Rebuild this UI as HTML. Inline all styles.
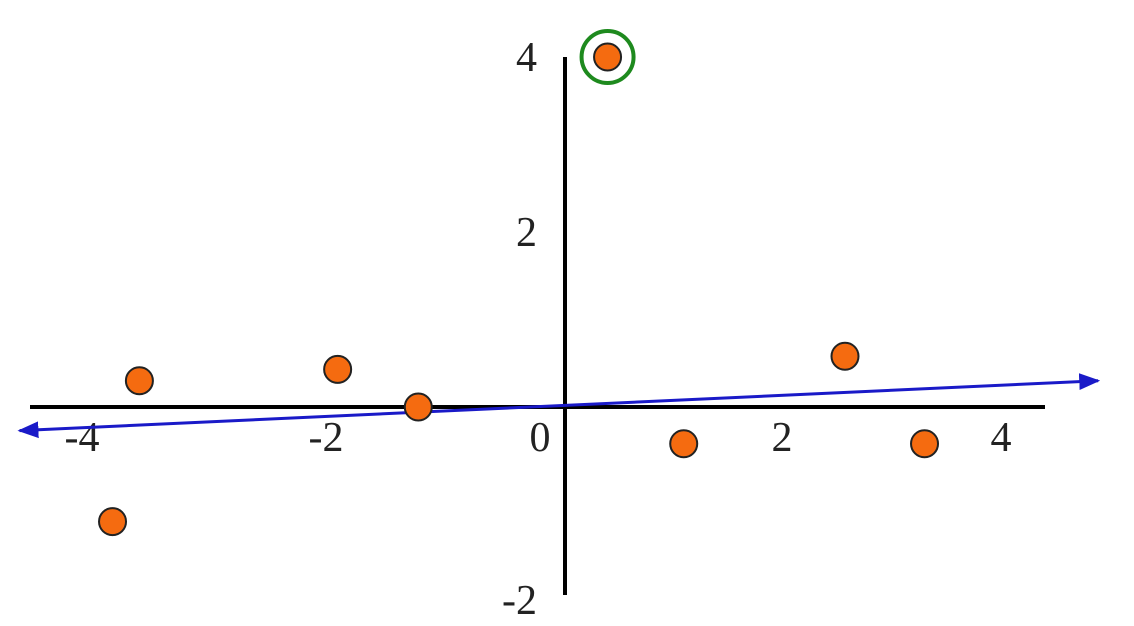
<!DOCTYPE html>
<html><head><meta charset="utf-8"><style>
html,body{margin:0;padding:0;background:#fff;}
svg{display:block;}
text{font-family:"Liberation Serif",serif;font-size:42px;fill:#222;}
</style></head><body>
<svg id="chart" width="1134" height="626" viewBox="0 0 1134 626">
<defs>
<marker id="arr" viewBox="0 0 10 10" refX="9" refY="5" markerWidth="7" markerHeight="7" orient="auto-start-reverse"><path d="M0,1 L10,5 L0,9 z" fill="#1a1ac8"/></marker>
</defs>
<g id="axes"></g>
<g id="marks"></g>
</svg>
<script>
const xsVals=[-3.80,-4.04,-2.03,-1.31,0.38,1.06,2.5,3.21];
const ysVals=[0.30,-1.31,0.43,0.0,4.0,-0.42,0.58,-0.42];
const xTicks=[-4,-2,0,2,4];
const yTicks=[4,2,-2];
const lineX=[-4.87,4.76];
const lineY=[-0.27,0.30];
const outlierIndex=4;

const NS="http://www.w3.org/2000/svg";
const x=v=>565+v*112;
const y=v=>407-v*87.5;
function mk(t,a,p){const e=document.createElementNS(NS,t);for(const k in a)e.setAttribute(k,a[k]);p.appendChild(e);return e;}
const ax=document.getElementById('axes'),mg=document.getElementById('marks');
let e=mk('line',{x1:30,y1:y(0),x2:1045,y2:y(0),stroke:'#000','stroke-width':4},ax);


e=mk('line',{x1:x(0),y1:57,x2:x(0),y2:595,stroke:'#000','stroke-width':4},ax);


const xOff={'-4':-35,'-2':-15,'0':-25,'2':-7,'4':-12};
xTicks.forEach(v=>{
 const t=mk('text',{x:x(v)+xOff[v],y:451,'text-anchor':'middle'},ax);
 t.textContent=v;
 
 
});
yTicks.forEach(v=>{
 const t=mk('text',{x:537,y:v<0?614:y(v)+14,'text-anchor':'end'},ax);
 t.textContent=v;
 
 
});
e=mk('line',{x1:x(lineX[0]),y1:y(lineY[0]),x2:x(lineX[1]),y2:y(lineY[1]),stroke:'#1a1ac8','stroke-width':3,'marker-start':'url(#arr)','marker-end':'url(#arr)'},mg);


xsVals.forEach((v,i)=>{
 const c=mk('circle',{cx:x(v),cy:y(ysVals[i]),r:13.5,fill:'#f56b10',stroke:'#222','stroke-width':2},mg);
 
 
});
e=mk('circle',{cx:x(xsVals[outlierIndex]),cy:y(ysVals[outlierIndex]),r:26,fill:'none',stroke:'#1e8a1e','stroke-width':4},mg);


</script>
</body></html>
